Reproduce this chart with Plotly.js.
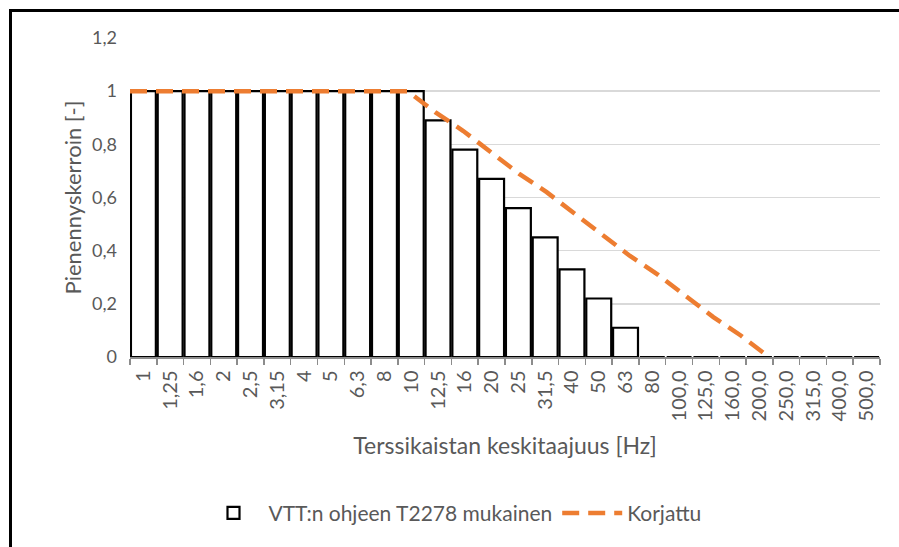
<!DOCTYPE html>
<html>
<head>
<meta charset="utf-8">
<script src="https://cdn.plot.ly/plotly-3.0.1.min.js"></script>
<style>
  body { margin: 0; background: #fff; }
  #wrap { position: relative; width: 899px; height: 547px; overflow: hidden; }
  #chart { width: 899px; height: 547px; }
  #frame { position: absolute; left: 9px; top: 9px; width: 900px; height: 560px;
           border-top: 3px solid #000; border-left: 3px solid #000; pointer-events: none; }
</style>
</head>
<body>
<div id="wrap">
  <div id="chart"></div>
  <div id="frame"></div>
</div>
<script>
// terssikaistat (Hz)
const bands = ['1', '1,25', '1,6', '2', '2,5', '3,15', '4', '5', '6,3', '8', '10',
  '12,5', '16', '20', '25', '31,5', '40', '50', '63', '80',
  '100,0', '125,0', '160,0', '200,0', '250,0', '315,0', '400,0', '500,0'];

// VTT:n ohjeen T2278 mukainen
const vttValues = [1, 1, 1, 1, 1, 1, 1, 1, 1, 1, 1,
  0.89, 0.78, 0.67, 0.56, 0.45, 0.33, 0.22, 0.11, 0,
  0, 0, 0, 0, 0, 0, 0, 0];

// Korjattu (drawn on a boundary-aligned axis)
const korjattuValues = [1, 1, 1, 1, 1, 1, 1, 1, 1, 1, 1,
  0.92, 0.85, 0.77, 0.69, 0.62, 0.54, 0.46, 0.38, 0.31, 0.23, 0.15, 0.08, 0];

const txtGray = '#595959';

const bars = {
  x: bands,
  y: vttValues,
  type: 'bar',
  name: 'VTT:n ohjeen T2278 mukainen',
  marker: { color: '#ffffff', line: { color: '#000000', width: 2.2 } },
  hoverinfo: 'x+y'
};

const line = {
  x: korjattuValues.map((v, i) => i),
  y: korjattuValues,
  xaxis: 'x2',
  type: 'scatter',
  mode: 'lines',
  name: 'Korjattu',
  line: { color: '#ED7D31', width: 4.5, dash: '17px,9px' }
};

const layout = {
  width: 899,
  height: 547,
  margin: { l: 130, r: 19, t: 38, b: 190 },
  paper_bgcolor: '#ffffff',
  plot_bgcolor: '#ffffff',
  separators: ', ',
  font: { family: 'Lato, "Open Sans", sans-serif', color: txtGray, size: 18 },
  bargap: 0.07,
  showlegend: true,
  legend: {
    orientation: 'h',
    x: 0.43, xanchor: 'center',
    y: -0.49, yanchor: 'middle',
    font: { size: 21, color: txtGray },
    itemwidth: 60
  },
  xaxis: {
    type: 'category',
    tickangle: -90,
    ticks: 'outside',
    tickson: 'boundaries',
    ticklen: 6,
    tickcolor: '#8c8c8c',
    tickwidth: 1.5,
    showline: true,
    linecolor: '#8c8c8c',
    linewidth: 1.5,
    showgrid: false,
    ticklabelstandoff: 4,
    tickfont: { size: 20, color: txtGray },
    title: { text: 'Terssikaistan keskitaajuus [Hz]', font: { size: 23, color: txtGray }, standoff: 17 }
  },
  xaxis2: {
    overlaying: 'x',
    range: [0, 27],
    visible: false
  },
  yaxis: {
    range: [0, 1.2],
    dtick: 0.2,
    showgrid: true,
    gridcolor: '#d9d9d9',
    gridwidth: 1.5,
    zeroline: false,
    showline: false,
    ticks: '',
    ticklabelstandoff: 12,
    tickfont: { size: 18, color: txtGray },
    title: { text: 'Pienennyskerroin [-]', font: { size: 22, color: txtGray }, standoff: 4 }
  }
};

Plotly.newPlot('chart', [bars, line], layout, { displayModeBar: false, staticPlot: true });
</script>
</body>
</html>
